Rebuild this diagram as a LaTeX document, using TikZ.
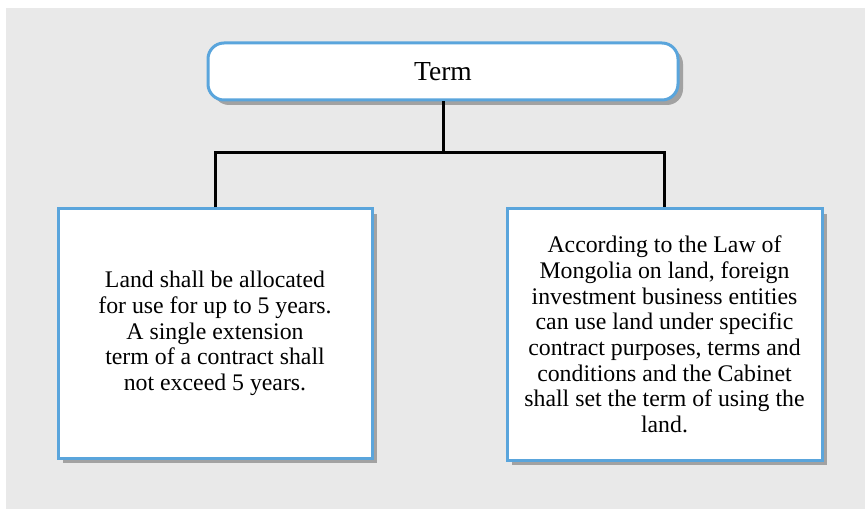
\documentclass[tikz,border=0pt]{standalone}
\usepackage{fontspec}
\setmainfont{Liberation Serif}
\usetikzlibrary{positioning,shadows}

\definecolor{bggray}{HTML}{E9E9E9}
\definecolor{boxblue}{HTML}{5AA5DC}

\begin{document}
\begin{tikzpicture}[x=1pt,y=1pt,
    box/.style={rectangle,draw=boxblue,line width=3pt,fill=white,align=center,
      font=\fontsize{23.8}{25.7}\selectfont,inner sep=0pt,
      drop shadow={shadow xshift=5pt,shadow yshift=-5pt,opacity=0.3,fill=black}},
    link/.style={line width=3pt,black}]
  \useasboundingbox (0,0) rectangle (865,509);
  \fill[bggray] (6,0) rectangle (865,501);

  \node[box,rounded corners=16pt,minimum width=470pt,minimum height=57pt,
    font=\fontsize{27.5}{30}\selectfont] (term) at (443,437.5) {Term};
  \node[box,minimum width=314pt,minimum height=249pt] (use) at (215,175.5)
    {Land shall be allocated\\for use for up to 5 years.\\A single extension\\
     term of a contract shall\\not exceed 5 years.};
  \node[box,minimum width=315pt,minimum height=251pt] (law) at (664.5,174.5)
    {According to the Law of\\Mongolia on land, foreign\\investment business entities\\
     can use land under specific\\contract purposes, terms and\\conditions and the Cabinet\\
     shall set the term of using the\\land.};

  \coordinate (split) at (term.south |- 0,356);
  \draw[link] (term.south) -- (split);
  \draw[link] (use.north) |- (split) -| (law.north);
\end{tikzpicture}
\end{document}
